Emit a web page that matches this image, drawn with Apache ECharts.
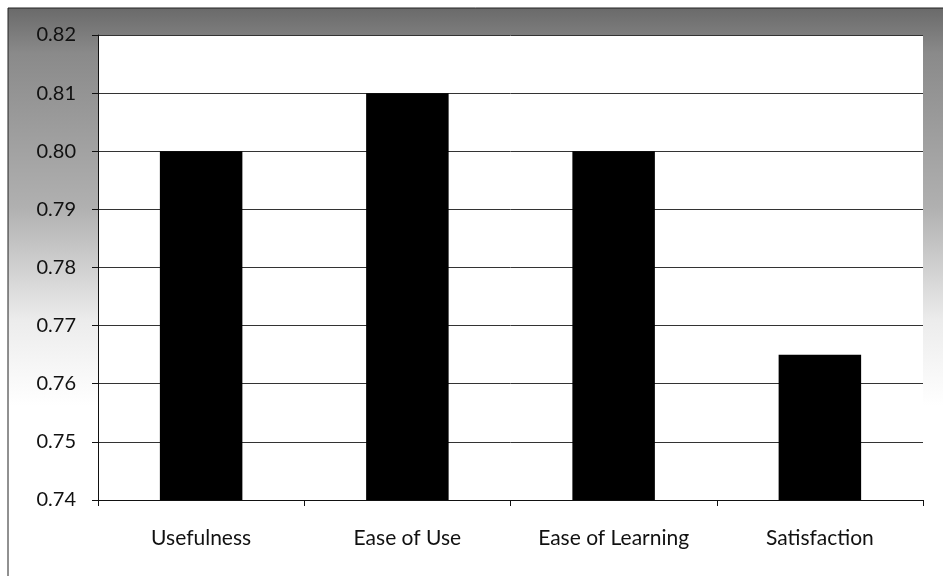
<!DOCTYPE html>
<html>
<head>
<meta charset="utf-8">
<script src="https://cdn.jsdelivr.net/npm/echarts@6/dist/echarts.min.js"></script>
<style>
  html, body { margin: 0; padding: 0; background: #fff; }
  #main { width: 943px; height: 576px; }
</style>
</head>
<body>
<div id="main"></div>
<script>
// data
var categories = ['Usefulness', 'Ease of Use', 'Ease of Learning', 'Satisfaction'];
var scores = [0.80, 0.81, 0.80, 0.765];
var yMin = 0.74, yMax = 0.82, yStep = 0.01;

var myChart = echarts.init(document.getElementById('main'));

var option = {
    animation: false,
    backgroundColor: '#fff',
    textStyle: { fontFamily: 'Lato' },
    // grey scanned frame behind the plot
    graphic: [
        {
            type: 'rect',
            z: -10,
            shape: { x: 8, y: 8, width: 935, height: 568 },
            style: {
                fill: new echarts.graphic.LinearGradient(0, 0, 0, 1, [
                    { offset: 0, color: '#6a6a6a' },
                    { offset: 0.08, color: '#8a8a8a' },
                    { offset: 0.35, color: '#b0b0b0' },
                    { offset: 0.55, color: '#ececec' },
                    { offset: 0.7, color: '#ffffff' },
                    { offset: 1, color: '#ffffff' }
                ])
            }
        },
        {
            type: 'polyline',
            z: -5,
            shape: { points: [[8, 576], [8, 8], [943, 8]] },
            style: { stroke: '#222', lineWidth: 1, fill: null }
        }
    ],
    grid: {
        left: 98,
        right: 20,
        top: 35,
        bottom: 76,
        show: true,
        backgroundColor: '#fff',
        borderWidth: 0
    },
    xAxis: {
        type: 'category',
        data: categories,
        axisLine: { lineStyle: { color: '#111', width: 1 } },
        axisTick: { show: true, length: 6, lineStyle: { color: '#111' } },
        axisLabel: { margin: 28, fontSize: 21, color: '#111', fontFamily: 'Lato' }
    },
    yAxis: {
        type: 'value',
        min: yMin,
        max: yMax,
        interval: yStep,
        axisLine: { show: true, lineStyle: { color: '#111', width: 1 } },
        axisTick: { show: true, length: 6, lineStyle: { color: '#111' } },
        splitLine: { lineStyle: { color: '#333', width: 1 } },
        axisLabel: {
            margin: 22,
            fontSize: 20,
            color: '#111',
            fontFamily: 'Lato',
            formatter: function (v) { return v.toFixed(2); }
        }
    },
    series: [{
        type: 'bar',
        data: scores,
        barWidth: '40%',
        itemStyle: { color: '#000' }
    }]
};

myChart.setOption(option);
</script>
</body>
</html>
